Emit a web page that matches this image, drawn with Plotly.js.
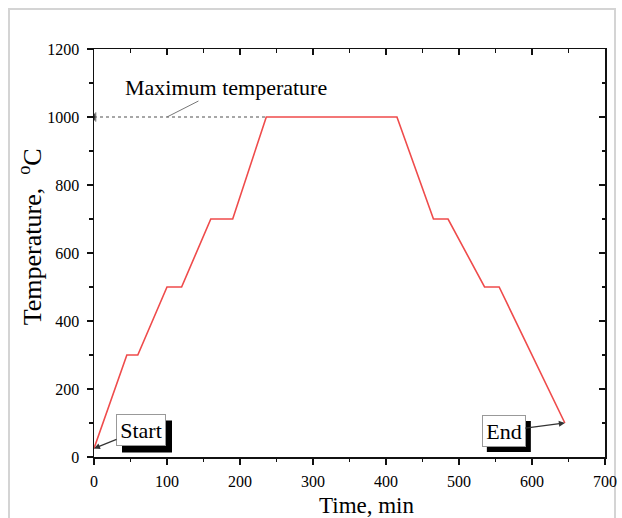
<!DOCTYPE html>
<html>
<head>
<meta charset="utf-8">
<script src="https://cdn.plot.ly/plotly-3.0.1.min.js"></script>
<style>
html,body{margin:0;padding:0;background:#fff;}
#wrap{position:relative;width:622px;height:518px;overflow:hidden;}
#frame{position:absolute;left:8px;top:8px;width:604px;height:520px;border:2px solid #d4d4d4;}
#chart{position:absolute;left:0;top:0;width:622px;height:518px;}
</style>
</head>
<body>
<div id="wrap"><div id="frame"></div><div id="chart"></div></div>
<script>
// Heating schedule: time (min) vs temperature (°C)
var timeMin = [0, 45, 60, 100, 120, 160, 190, 236, 415, 465, 485, 535, 555, 645];
var tempC   = [25, 300, 300, 500, 500, 700, 700, 1000, 1000, 700, 700, 500, 500, 100];
var maxTemp = 1000;
var peakIdx = 7;
var xTickVals = [0, 100, 200, 300, 400, 500, 600, 700];
var yTickVals = [0, 200, 400, 600, 800, 1000, 1200];
var labels = {start: 'Start', end: 'End', max: 'Maximum temperature',
              xTitle: 'Time, min', yTitle: 'Temperature,&nbsp; <sup>o</sup>C'};

var serif = 'Liberation Serif';
var last = timeMin.length - 1;
var tf = {family: serif, size: 16, color: '#000'};

var traces = [
  {
    x: [timeMin[0], timeMin[peakIdx]], y: [maxTemp, maxTemp],
    mode: 'lines+markers', line: {color: '#8a8a8a', width: 1.3, dash: 'dot'},
    marker: {symbol: ['triangle-left', 'circle'], size: [8, 0], color: '#000'},
    hoverinfo: 'skip', showlegend: false
  },
  {
    x: timeMin, y: tempC, mode: 'lines',
    line: {color: '#ef4b4b', width: 1.6},
    showlegend: false
  },
  {
    x: timeMin, y: tempC, mode: 'lines', xaxis: 'x2', yaxis: 'y2',
    line: {color: 'rgba(0,0,0,0)', width: 0}, hoverinfo: 'skip', showlegend: false
  }
];

var boxFont = {family: serif, size: 22, color: '#000'};

var annotations = [
  {x: 100, y: maxTemp, xref: 'x', yref: 'y', text: labels.max, showarrow: true,
   ax: 59, ay: -30, arrowhead: 0, arrowwidth: 1, arrowcolor: '#777',
   font: {family: serif, size: 22, color: '#000'}},
  {x: timeMin[0], y: tempC[0], xref: 'x', yref: 'y', text: labels.start, showarrow: true,
   ax: 47, ay: -19, arrowhead: 2, arrowsize: 1, arrowwidth: 1.2, arrowcolor: '#333',
   width: 46, height: 28,
   bgcolor: '#fff', bordercolor: '#999', borderwidth: 1, borderpad: 1, font: boxFont},
  {x: timeMin[last], y: tempC[last], xref: 'x', yref: 'y', text: labels.end, showarrow: true,
   ax: -61, ay: 8, arrowhead: 2, arrowsize: 1, arrowwidth: 1.2, arrowcolor: '#333',
   width: 40, height: 28,
   bgcolor: '#fff', bordercolor: '#999', borderwidth: 1, borderpad: 1, font: boxFont},
  // axis titles (placed as in the original figure, slightly off-centre)
  {xref: 'paper', yref: 'paper', x: 0.535, y: -0.119, xanchor: 'center', yanchor: 'middle',
   text: labels.xTitle, showarrow: false, font: {family: serif, size: 23, color: '#000'}},
  {xref: 'paper', yref: 'paper', x: -0.124, y: 0.54, xanchor: 'center', yanchor: 'middle',
   textangle: -90, text: labels.yTitle, showarrow: false,
   font: {family: serif, size: 26, color: '#000'}}
];

var shapes = [
  {type: 'rect', xref: 'x', yref: 'y', xsizemode: 'pixel', ysizemode: 'pixel',
   xanchor: timeMin[0], yanchor: tempC[0], x0: 28, x1: 78, y0: -4, y1: 28,
   fillcolor: '#000', line: {width: 0}, layer: 'above'},
  {type: 'rect', xref: 'x', yref: 'y', xsizemode: 'pixel', ysizemode: 'pixel',
   xanchor: timeMin[last], yanchor: tempC[last], x0: -78, x1: -34, y0: -29, y1: 2,
   fillcolor: '#000', line: {width: 0}, layer: 'above'}
];

var layout = {
  width: 622, height: 518,
  margin: {l: 94, r: 17, t: 49, b: 61},
  font: {family: serif, size: 16, color: '#000'},
  paper_bgcolor: 'rgba(0,0,0,0)', plot_bgcolor: 'rgba(0,0,0,0)',
  showlegend: false,
  xaxis: {
    range: [0, 700], tickvals: xTickVals, ticks: 'outside', tickfont: tf,
    ticklabelstandoff: 3,
    showgrid: false, zeroline: false, showline: true, linecolor: '#111', linewidth: 1.5,
    tickcolor: '#111', tickwidth: 1.5, ticklen: 6,
    minor: {dtick: 50, ticks: 'outside', ticklen: 3.5, tickwidth: 1.5, tickcolor: '#111'}
  },
  yaxis: {
    range: [0, 1200], tickvals: yTickVals, ticks: 'outside', tickfont: tf,
    ticklabelstandoff: 4,
    showgrid: false, zeroline: false, showline: true, linecolor: '#111', linewidth: 1.5,
    tickcolor: '#111', tickwidth: 1.5, ticklen: 6,
    minor: {dtick: 100, ticks: 'outside', ticklen: 3.5, tickwidth: 1.5, tickcolor: '#111'}
  },
  xaxis2: {
    overlaying: 'x', side: 'top', anchor: 'y2', range: [0, 700], tickvals: xTickVals,
    ticks: 'inside', showticklabels: false,
    showgrid: false, zeroline: false, showline: true, linecolor: '#111', linewidth: 1.5,
    tickcolor: '#111', tickwidth: 1.5, ticklen: 6,
    minor: {dtick: 50, ticks: 'inside', ticklen: 3.5, tickwidth: 1.5, tickcolor: '#111'}
  },
  yaxis2: {
    overlaying: 'y', side: 'right', anchor: 'x2', range: [0, 1200], tickvals: yTickVals,
    ticks: 'inside', showticklabels: false,
    showgrid: false, zeroline: false, showline: true, linecolor: '#111', linewidth: 1.5,
    tickcolor: '#111', tickwidth: 1.5, ticklen: 6,
    minor: {dtick: 100, ticks: 'inside', ticklen: 3.5, tickwidth: 1.5, tickcolor: '#111'}
  },
  shapes: shapes,
  annotations: annotations
};

Plotly.newPlot('chart', traces, layout, {displayModeBar: false, staticPlot: true});
</script>
</body>
</html>
